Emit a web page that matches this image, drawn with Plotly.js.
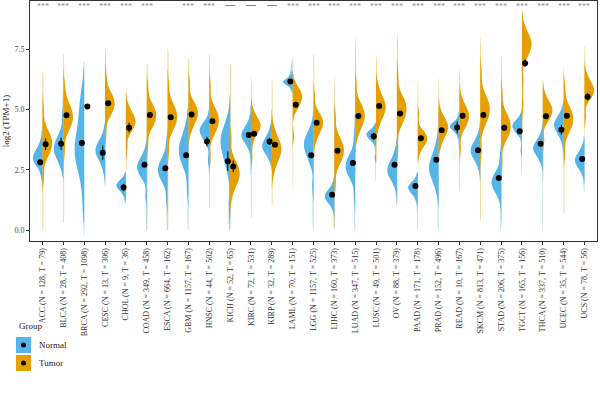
<!DOCTYPE html>
<html>
<head>
<meta charset="utf-8">
<script src="https://cdn.plot.ly/plotly-3.0.1.min.js"></script>
<style>html,body{margin:0;padding:0;background:#fff;}#chart{width:600px;height:396px;}</style>
</head>
<body>
<div id="chart"></div>
<script>
// ---------- data ----------
const cancers = ["ACC","BLCA","BRCA","CESC","CHOL","COAD","ESCA","GBM","HNSC","KICH","KIRC","KIRP","LAML","LGG","LIHC","LUAD","LUSC","OV","PAAD","PRAD","READ","SKCM","STAD","TGCT","THCA","UCEC","UCS"];
const nNormal = [128,28,292,13,9,349,664,1157,44,52,72,32,70,1157,160,347,49,88,171,152,10,813,206,165,337,35,78];
const nTumor  = [79,408,1098,306,36,458,162,167,502,65,531,289,151,525,373,515,501,379,178,496,167,471,375,156,510,544,56];
const signif = ["***","***","***","***","***","***","","***","***","—","—","—","***","***","***","***","***","***","***","***","***","***","***","***","***","***","***"];

// Distribution values read from the violin shapes (approximate quantiles, log2(TPM+1))
const normalValues = [
  [2.3,2.63,2.74,2.81,2.88,2.94,3.0,3.07,3.14,3.22,3.3,3.44,3.7],
  [2.6,2.9,3.05,3.15,3.24,3.32,3.4,3.5,3.6,3.71,3.84,4.03,4.7],
  [1.2,2.4,2.8,3.0,3.15,3.3,3.45,3.6,3.85,4.3,4.9,5.2,5.6],
  [2.5,2.8,2.95,3.05,3.14,3.22,3.3,3.37,3.44,3.52,3.6,3.74,4.0],
  [1.41,1.58,1.66,1.71,1.76,1.81,1.85,1.88,1.92,1.96,2.01,2.08,2.21],
  [1.4,2.1,2.25,2.35,2.44,2.52,2.6,2.67,2.74,2.82,2.9,3.04,3.3],
  [1.3,1.94,2.11,2.22,2.32,2.41,2.5,2.59,2.68,2.78,2.89,3.06,3.6],
  [1.7,2.55,2.78,2.93,3.06,3.19,3.3,3.41,3.54,3.67,3.82,4.05,4.5],
  [2.9,3.6,3.75,3.85,3.94,4.02,4.1,4.15,4.2,4.26,4.32,4.41,4.6],
  [1.0,2.48,2.82,3.04,3.24,3.43,3.6,3.7,3.8,3.91,4.04,4.23,4.6],
  [3.35,3.58,3.69,3.76,3.83,3.89,3.95,4.01,4.07,4.14,4.21,4.33,4.55],
  [2.9,3.13,3.24,3.31,3.38,3.44,3.5,3.57,3.64,3.72,3.8,3.94,4.2],
  [5.91,6.0,6.05,6.08,6.1,6.13,6.15,6.18,6.21,6.24,6.28,6.34,6.45],
  [1.8,2.75,2.98,3.13,3.26,3.39,3.5,3.58,3.66,3.75,3.85,4.0,4.3],
  [0.9,1.09,1.18,1.25,1.3,1.35,1.4,1.45,1.5,1.56,1.62,1.71,1.9],
  [1.4,2.09,2.26,2.37,2.47,2.56,2.65,2.74,2.83,2.93,3.04,3.21,3.8],
  [3.0,3.64,3.73,3.8,3.85,3.9,3.95,3.98,4.01,4.04,4.08,4.14,4.25],
  [1.8,2.06,2.2,2.28,2.36,2.43,2.5,2.58,2.66,2.75,2.85,3.0,3.3],
  [1.25,1.44,1.53,1.6,1.65,1.7,1.75,1.79,1.83,1.87,1.92,2.0,2.15],
  [1.6,1.98,2.17,2.29,2.4,2.5,2.6,2.7,2.82,2.94,3.08,3.29,3.7],
  [3.9,4.05,4.13,4.18,4.22,4.26,4.3,4.33,4.36,4.39,4.43,4.49,4.6],
  [2.6,2.86,3.0,3.08,3.16,3.23,3.3,3.37,3.44,3.52,3.6,3.74,4.0],
  [1.3,1.56,1.7,1.78,1.86,1.93,2.0,2.08,2.16,2.25,2.35,2.5,3.0],
  [3.3,3.93,4.04,4.11,4.18,4.24,4.3,4.34,4.38,4.42,4.47,4.55,4.7],
  [2.8,3.03,3.14,3.21,3.28,3.34,3.4,3.46,3.52,3.59,3.66,3.78,4.0],
  [3.65,3.91,4.05,4.13,4.21,4.28,4.35,4.41,4.47,4.54,4.61,4.73,4.95],
  [2.3,2.53,2.64,2.71,2.78,2.84,2.9,2.96,3.02,3.09,3.16,3.28,3.5]
];
// sparse tail observations (thin extensions of the violins)
const normalTails = [
  [2.0,3.95,4.2],[2.3,5.1,5.5],[0.5,0.9,1.7,6.0,6.5],[2.1,4.3],[1.2],
  [0.2,0.6,1.0,3.6],[0.2,0.6,1.0,4.0],[0.2,0.7,1.2,4.9],[2.5,4.85],
  [0.1,0.4,0.7,1.4,2.0,5.0,5.4],[2.5,2.9,4.85,5.1],[4.5,4.85],[6.6,6.75,6.9],
  [0.2,0.6,1.0,1.4,4.6],[0.1,0.5,2.1],[0.2,0.6,1.0,4.2,4.6],[2.2,2.6],
  [1.2,1.5,3.6],[0.1,0.5,0.9],[0.2,0.6,1.1,4.1,4.6],[3.5,4.8],[2.2,4.3],
  [0.1,0.5,0.9,3.4],[2.5,2.9],[0.2,0.8,1.4,2.1,4.3],[3.1,3.4,5.2],[1.8,2.0,3.8]
];
const normalSpan = [[1.8,4.3],[2.2,5.6],[0.3,6.7],[1.9,4.4],[1.1,2.4],[0,3.8],[0,4.2],[0,5.2],[2.4,5.0],[0,5.6],[2.3,5.2],[2.7,5.0],[5.7,7.1],[0,4.8],[0,2.2],[0,4.8],[2.0,4.4],[1.0,3.8],[0,2.4],[0,4.9],[3.3,4.9],[2.0,4.5],[0,3.6],[2.3,4.9],[0,4.5],[2.9,5.3],[1.6,4.0]];

const tumorValues = [
  [2.2,2.98,3.17,3.29,3.4,3.5,3.6,3.7,3.8,3.91,4.04,4.23,5.0],
  [3.3,4.08,4.27,4.39,4.5,4.6,4.7,4.8,4.92,5.04,5.18,5.39,6.0],
  null,
  [4.0,4.69,4.86,4.97,5.07,5.16,5.25,5.34,5.43,5.53,5.64,5.81,6.4],
  [3.4,4.0,4.15,4.25,4.34,4.42,4.5,4.57,4.64,4.72,4.8,4.94,5.2],
  [3.5,4.19,4.36,4.47,4.57,4.66,4.75,4.84,4.93,5.03,5.14,5.31,5.9],
  [3.3,4.08,4.27,4.39,4.5,4.6,4.7,4.8,4.9,5.01,5.14,5.33,6.0],
  [4.05,4.35,4.5,4.6,4.69,4.77,4.85,4.94,5.03,5.13,5.24,5.41,6.1],
  [3.0,3.93,4.12,4.24,4.35,4.45,4.55,4.65,4.75,4.86,4.99,5.18,6.0],
  [1.45,1.79,1.96,2.07,2.17,2.26,2.35,2.45,2.55,2.66,2.79,2.98,3.8],
  [3.0,3.6,3.95,4.08,4.16,4.23,4.3,4.37,4.44,4.52,4.6,4.74,5.0],
  [2.35,2.73,2.92,3.04,3.15,3.25,3.35,3.44,3.53,3.63,3.74,3.91,4.25],
  [3.9,4.94,5.11,5.22,5.32,5.41,5.5,5.56,5.62,5.69,5.76,5.88,6.1],
  [3.65,3.95,4.1,4.2,4.29,4.37,4.45,4.53,4.61,4.7,4.8,4.95,5.6],
  [1.9,2.68,2.87,2.99,3.1,3.2,3.3,3.4,3.5,3.61,3.74,3.93,4.7],
  [3.85,4.19,4.36,4.47,4.57,4.66,4.75,4.85,4.95,5.06,5.19,5.38,6.1],
  [4.2,4.54,4.71,4.82,4.92,5.01,5.1,5.19,5.28,5.38,5.49,5.66,6.0],
  [3.4,4.31,4.52,4.66,4.78,4.9,5.0,5.1,5.2,5.31,5.44,5.63,6.4],
  [3.2,3.43,3.54,3.61,3.68,3.74,3.8,3.86,3.92,3.99,4.06,4.18,4.8],
  [3.45,3.75,3.9,4.0,4.09,4.17,4.25,4.32,4.39,4.47,4.55,4.69,4.95],
  [3.4,4.14,4.31,4.42,4.52,4.61,4.7,4.78,4.86,4.95,5.05,5.2,5.5],
  [3.3,4.31,4.52,4.66,4.78,4.9,5.0,5.1,5.22,5.34,5.48,5.69,6.5],
  [2.8,3.68,3.87,3.99,4.1,4.2,4.3,4.4,4.5,4.61,4.74,4.93,5.7],
  [5.2,6.2,7.13,7.28,7.41,7.54,7.65,7.73,7.81,7.9,8.0,8.15,8.45],
  [3.7,4.45,4.6,4.7,4.79,4.87,4.95,5.02,5.09,5.17,5.25,5.39,5.65],
  [3.2,3.98,4.17,4.29,4.4,4.5,4.6,4.7,4.8,4.91,5.04,5.23,5.9],
  [4.7,5.36,5.5,5.58,5.66,5.73,5.8,5.87,5.94,6.02,6.1,6.24,6.5]
];
const tumorTails = [
  [0.1,0.6,1.1,1.6,5.5,6.0,6.4],[0.4,0.9,1.5,2.1,2.7,6.5,7.0],null,[2.0,2.6,3.3,6.9,7.3],
  [2.7,3.0,5.6],[0.2,0.8,1.4,2.0,2.6,3.0,6.4,6.8],[0.2,0.8,1.4,2.0,2.6,6.5,7.0,7.4],
  [3.0,3.5,6.6,7.0],[1.0,1.6,2.3,6.5,7.0],[0.6,1.0,4.4,5.0,5.6,6.2,6.7],
  [0.6,1.2,1.8,2.4,5.5,6.0],[1.1,1.7,4.8,5.4,6.0],[2.0,2.6,3.2],[2.7,3.2,6.1,6.6,7.1],
  [0.2,0.7,1.3,5.3,5.9],[2.6,3.2,6.6,7.1,7.6],[3.0,3.6,6.5,7.0],[1.2,1.8,2.5,6.9,7.4,7.9],
  [2.7,5.3,5.8],[3.0,5.4,5.9],[1.8,2.4,3.0,6.0,6.4],[0.5,1.1,1.8,2.5,7.0,7.6],
  [0.4,1.0,1.6,2.2,6.2,6.8],[4.2,4.7,5.7,8.8],[2.2,2.8,3.3,6.0],[0.8,1.4,2.0,2.6,6.4],[4.2,7.0,7.4]
];
const tumorSpan = [[0,6.6],[0.3,7.3],null,[1.8,7.5],[2.5,5.9],[0,6.9],[0,7.5],[2.8,7.1],[0.9,7.3],[0.5,6.9],[0.5,6.4],[1.0,6.2],[1.8,6.4],[2.5,7.3],[0.1,6.4],[2.4,8.0],[2.8,7.2],[1.1,8.2],[2.5,6.2],[2.8,6.3],[1.6,6.6],[0.4,8.0],[0.3,7.2],[4.0,9.05],[2.0,6.2],[0.7,6.8],[4.0,7.6]];

const normalMean = [2.82,3.58,3.61,3.21,1.77,2.71,2.57,3.10,3.67,2.86,3.94,3.68,6.16,3.10,1.47,2.78,3.89,2.71,1.83,2.92,4.26,3.31,2.16,4.10,3.58,4.16,2.95];
const normalErr  = [0.08,0.25,0.06,0.30,0.15,0.04,0.04,0.03,0.20,0.40,0.10,0.15,0.05,0.03,0.05,0.05,0.15,0.06,0.05,0.06,0.25,0.03,0.04,0.05,0.04,0.20,0.05];
const tumorMean  = [3.56,4.76,5.13,5.26,4.25,4.77,4.68,4.79,4.51,2.64,4.00,3.54,5.20,4.45,3.29,4.73,5.15,4.84,3.81,4.14,4.74,4.77,4.25,6.92,4.72,4.74,5.53];
const tumorErr   = [0.25,0.05,0.03,0.05,0.20,0.05,0.05,0.05,0.05,0.25,0.05,0.05,0.05,0.05,0.05,0.05,0.05,0.05,0.05,0.05,0.05,0.05,0.05,0.15,0.05,0.05,0.15];

const yTicks = [0, 2.5, 5, 7.5];
const yTickText = ["0.0","2.5","5.0","7.5"];

// ---------- styles ----------
const BLUE = "#56B4E9", ORANGE = "#E69F00";
const BLUE_T = "rgba(86,180,233,0.55)", ORANGE_T = "rgba(230,159,0,0.55)";
const SERIF = "Liberation Serif, Times New Roman, serif";
const idx = cancers.map((_, i) => i);
const labels = cancers.map((c, i) => `${c} (N = ${nNormal[i]}, T = ${nTumor[i]})`);

function violinHalf(i, values, side, color, opts) {
  return Object.assign({
    type: "violin", x0: i, y: values, side: side, scalemode: "width",
    fillcolor: color, line: {width: 0, color: color}, points: false,
    box: {visible: false}, meanline: {visible: false}, hoverinfo: "skip", showlegend: false
  }, opts);
}

const tailTraces = [], bodyTraces = [];
cancers.forEach((c, i) => {
  if (normalValues[i]) {
    tailTraces.push(violinHalf(i, normalValues[i].concat(normalTails[i]), "negative", BLUE_T,
      {width: 0.34, bandwidth: 0.35, spanmode: "manual", span: normalSpan[i]}));
    bodyTraces.push(violinHalf(i, normalValues[i], "negative", BLUE, {width: 0.92, spanmode: "soft"}));
  }
  if (tumorValues[i]) {
    tailTraces.push(violinHalf(i, tumorValues[i].concat(tumorTails[i]), "positive", ORANGE_T,
      {width: 0.34, bandwidth: 0.35, spanmode: "manual", span: tumorSpan[i]}));
    bodyTraces.push(violinHalf(i, tumorValues[i], "positive", ORANGE, {width: 0.92, spanmode: "soft"}));
  }
});
const traces = tailTraces.concat(bodyTraces);
traces.push({
  type: "scatter", mode: "markers", x: idx.map(i => i - 0.11), y: normalMean,
  marker: {color: "black", size: 6},
  error_y: {type: "data", array: normalErr, thickness: 1, width: 0, color: "black"},
  showlegend: false, hoverinfo: "skip"
});
traces.push({
  type: "scatter", mode: "markers", x: idx.map(i => i + 0.15), y: tumorMean,
  marker: {color: "black", size: 6},
  error_y: {type: "data", array: tumorErr, thickness: 1, width: 0, color: "black"},
  showlegend: false, hoverinfo: "skip"
});

// pixel helpers for the hand-made legend (outside plot area)
const M = {l: 30, r: 3, t: 1, b: 155};
const PW = 600 - M.l - M.r, PH = 396 - M.t - M.b;
const px = x => (x - M.l) / PW;
const py = y => (396 - M.b - y) / PH;

const annotations = signif.map((s, i) => ({
  x: i, y: s === "—" ? 9.36 : 9.27, xref: "x", yref: "y", text: s, showarrow: false,
  font: s === "—" ? {family: SERIF, size: 10, color: "#111"} : {family: SERIF, size: 8, color: "#8c8c8c"},
  xanchor: "center", yanchor: "middle"
}));
const legendItems = [{name: "Normal", color: BLUE, y: 345}, {name: "Tumor", color: ORANGE, y: 363}];
annotations.push({x: px(17), y: py(326), xref: "paper", yref: "paper", text: "Group", showarrow: false,
  xanchor: "left", yanchor: "middle", font: {family: SERIF, size: 9, color: "#222"}});
const shapes = [];
legendItems.forEach(it => {
  shapes.push({type: "rect", xref: "paper", yref: "paper", x0: px(16), x1: px(31), y0: py(it.y - 8), y1: py(it.y + 8),
    fillcolor: it.color, line: {width: 0}});
  shapes.push({type: "circle", xref: "paper", yref: "paper", x0: px(21), x1: px(26), y0: py(it.y - 2.5), y1: py(it.y + 2.5),
    fillcolor: "black", line: {width: 0}});
  annotations.push({x: px(37), y: py(it.y), xref: "paper", yref: "paper", text: it.name, showarrow: false,
    xanchor: "left", yanchor: "middle", font: {family: SERIF, size: 9, color: "#222"}});
});

const layout = {
  width: 600, height: 396,
  margin: M,
  paper_bgcolor: "white", plot_bgcolor: "white",
  showlegend: false,
  xaxis: {
    range: [-0.6, 26.6], tickmode: "array", tickvals: idx, ticktext: labels, tickangle: -90,
    ticks: "outside", ticklen: 3, tickcolor: "#333", showline: true, mirror: true, linecolor: "#333", linewidth: 1,
    showgrid: false, zeroline: false, tickfont: {family: SERIF, size: 8, color: "#333"}
  },
  yaxis: {
    range: [-0.45, 9.5], tickmode: "array", tickvals: yTicks, ticktext: yTickText,
    ticks: "outside", ticklen: 3, tickcolor: "#333", showline: true, mirror: true, linecolor: "#333", linewidth: 1,
    showgrid: false, zeroline: false, tickfont: {family: SERIF, size: 8, color: "#4d4d4d"},
    title: {text: "log2 (TPM+1)", font: {family: SERIF, size: 9, color: "#222"}, standoff: 3}
  },
  annotations: annotations,
  shapes: shapes
};

Plotly.newPlot("chart", traces, layout, {staticPlot: true, displayModeBar: false});
</script>
</body>
</html>
